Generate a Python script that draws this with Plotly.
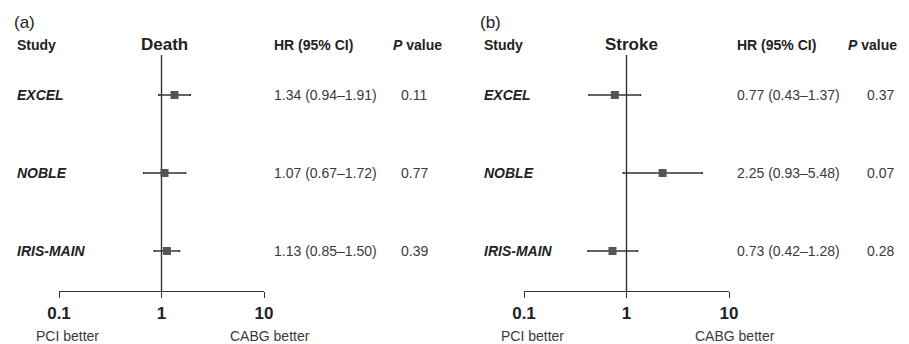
import plotly.graph_objects as go

W, H = 909, 344
OFF = 8  # page body margin in the browser

studies = ["EXCEL", "NOBLE", "IRIS-MAIN"]
rows = [3, 2, 1]

death_hr = [1.34, 1.07, 1.13]
death_lo = [0.94, 0.67, 0.85]
death_hi = [1.91, 1.72, 1.50]
death_p = ["0.11", "0.77", "0.39"]

stroke_hr = [0.77, 2.25, 0.73]
stroke_lo = [0.43, 0.93, 0.42]
stroke_hi = [1.37, 5.48, 1.28]
stroke_p = ["0.37", "0.07", "0.28"]

tick_vals = [0.1, 1, 10]
tick_text = ["0.1", "1", "10"]

FONT = "Liberation Sans, Arial, sans-serif"
DARK = "#222222"
NUM = "#3a3a3a"
MARK = "#555555"
LINE = "#333333"


def px(x):
    return (x - OFF) / W


def py(y):
    return 1 - (y - OFF) / H


panels = [
    dict(label="(a)", title="Death", hr=death_hr, lo=death_lo, hi=death_hi, p=death_p,
         xa="x", ya="y", dom=(59, 264), lab_x=12, study_x=15, title_x=164,
         hr_x=272, p_head_x=391, p_x=399, pci_x=68, cabg_x=270),
    dict(label="(b)", title="Stroke", hr=stroke_hr, lo=stroke_lo, hi=stroke_hi, p=stroke_p,
         xa="x2", ya="y2", dom=(524, 729), lab_x=478, study_x=482, title_x=631,
         hr_x=735, p_head_x=846, p_x=865, pci_x=532, cabg_x=735),
]

fig = go.Figure()
ann = []

y_range = [0.487, 3.513]
y_dom = [py(291), py(55)]

for i, pn in enumerate(panels):
    fig.add_trace(go.Scatter(
        x=[1, 1], y=y_range, mode="lines", xaxis=pn["xa"], yaxis=pn["ya"],
        line=dict(color=LINE, width=1.4), showlegend=False, hoverinfo="skip",
        cliponaxis=False))
    fig.add_trace(go.Scatter(
        x=pn["hr"], y=rows, mode="markers", xaxis=pn["xa"], yaxis=pn["ya"],
        marker=dict(symbol="square", size=8, color=MARK),
        error_x=dict(type="data", symmetric=False,
                     array=[h - m for h, m in zip(pn["hi"], pn["hr"])],
                     arrayminus=[m - l for m, l in zip(pn["hr"], pn["lo"])],
                     color=LINE, thickness=1.4, width=1),
        showlegend=False, cliponaxis=False))

    ann.append(dict(text=pn["label"], x=px(pn["lab_x"]), y=py(23), xref="paper", yref="paper",
                    xanchor="left", yanchor="middle", showarrow=False,
                    font=dict(size=17, color=DARK, family=FONT)))
    ann.append(dict(text="<b>Study</b>", x=px(pn["study_x"]), y=py(45), xref="paper", yref="paper",
                    xanchor="left", yanchor="middle", showarrow=False,
                    font=dict(size=14, color=DARK, family=FONT)))
    ann.append(dict(text="<b>" + pn["title"] + "</b>", x=px(pn["title_x"]), y=py(45), xref="paper",
                    yref="paper", xanchor="center", yanchor="middle", showarrow=False,
                    font=dict(size=17, color=DARK, family=FONT)))
    ann.append(dict(text="<b>HR (95% CI)</b>", x=px(pn["hr_x"]), y=py(45), xref="paper", yref="paper",
                    xanchor="left", yanchor="middle", showarrow=False,
                    font=dict(size=14, color=DARK, family=FONT)))
    ann.append(dict(text="<b><i>P</i> value</b>", x=px(pn["p_head_x"]), y=py(45), xref="paper",
                    yref="paper", xanchor="left", yanchor="middle", showarrow=False,
                    font=dict(size=14, color=DARK, family=FONT)))
    for s, r, m, l, h, p in zip(studies, rows, pn["hr"], pn["lo"], pn["hi"], pn["p"]):
        ann.append(dict(text="<b><i>" + s + "</i></b>", x=px(pn["study_x"]), y=r, xref="paper",
                        yref=pn["ya"], xanchor="left", yanchor="middle", showarrow=False,
                        font=dict(size=14, color=DARK, family=FONT)))
        ann.append(dict(text=f"{m:.2f} ({l:.2f}\u2013{h:.2f})", x=px(pn["hr_x"]), y=r, xref="paper",
                        yref=pn["ya"], xanchor="left", yanchor="middle", showarrow=False,
                        font=dict(size=14, color=NUM, family=FONT)))
        ann.append(dict(text=p, x=px(pn["p_x"]), y=r, xref="paper",
                        yref=pn["ya"], xanchor="left", yanchor="middle", showarrow=False,
                        font=dict(size=14, color=NUM, family=FONT)))
    ann.append(dict(text="PCI better", x=px(pn["pci_x"]), y=py(336), xref="paper", yref="paper",
                    xanchor="center", yanchor="middle", showarrow=False,
                    font=dict(size=14, color=NUM, family=FONT)))
    ann.append(dict(text="CABG better", x=px(pn["cabg_x"]), y=py(336), xref="paper", yref="paper",
                    xanchor="center", yanchor="middle", showarrow=False,
                    font=dict(size=14, color=NUM, family=FONT)))

xaxis_common = dict(type="log", range=[-1, 1], showgrid=False, zeroline=False,
                    showline=True, linecolor=LINE, linewidth=1.4, automargin=False,
                    ticks="outside", ticklen=6, tickwidth=1.4, tickcolor=LINE,
                    tickvals=tick_vals, ticktext=["<b>" + t + "</b>" for t in tick_text],
                    tickfont=dict(size=17, color=DARK, family=FONT), fixedrange=True)
yaxis_common = dict(range=y_range, domain=y_dom, visible=False, fixedrange=True, automargin=False)

fig.update_layout(
    width=W, height=H,
    margin=dict(l=0, r=0, t=0, b=0, autoexpand=False),
    paper_bgcolor="white", plot_bgcolor="white",
    xaxis=dict(domain=[px(panels[0]["dom"][0]), px(panels[0]["dom"][1])], anchor="y", **xaxis_common),
    yaxis=dict(anchor="x", **yaxis_common),
    xaxis2=dict(domain=[px(panels[1]["dom"][0]), px(panels[1]["dom"][1])], anchor="y2", **xaxis_common),
    yaxis2=dict(anchor="x2", **yaxis_common),
    annotations=ann,
    showlegend=False,
)

fig.write_html("out.html")
